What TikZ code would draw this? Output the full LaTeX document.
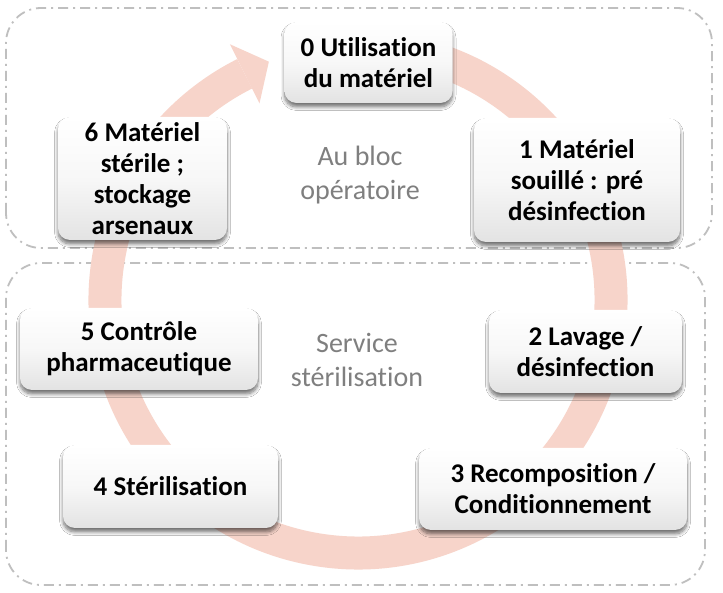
\documentclass[tikz,border=0pt]{standalone}
\usepackage{fontspec}
\setmainfont{Carlito}[Ligatures=NoCommon]
\usetikzlibrary{calc,shadows.blur}
\definecolor{bandc}{RGB}{247,212,202}
\definecolor{framec}{RGB}{191,191,191}
\definecolor{labelc}{RGB}{127,127,127}
\begin{document}
\begin{tikzpicture}[x=1pt,y=1pt,
  zone/.style={draw=framec, line width=1.8pt, rounded corners=35pt,
    dash pattern=on 10pt off 5pt on 2pt off 5pt},
  band/.style={draw=bandc, line width=33pt},
  stepbox/.style={rounded corners=12pt, inner sep=0pt, align=center,
    top color=white, bottom color=black!11, middle color=black!3,
    blur shadow={shadow xshift=0pt, shadow yshift=-4pt, shadow blur steps=8,
      shadow opacity=55, shadow blur radius=3.5pt},
    font=\fontsize{27}{31}\selectfont\bfseries, text=black},
  zonelabel/.style={align=center, text=labelc, font=\fontsize{28}{34}\selectfont}]
\useasboundingbox (0,0) rectangle (723,593);
\fill[white] (0,0) rectangle (723,593);
% zones
\draw[zone] (6,345) rectangle (712,585);
\draw[zone] (6,8) rectangle (705,330);
% cycle arrow
\coordinate (C) at (358,293);
\draw[band] ([shift={(80:253)}]C) arc[start angle=80, end angle=-243.4, radius=253];
\coordinate (hb1) at ($(C)+(116.6:220)$);
\coordinate (hb2) at ($(C)+(116.6:286)$);
\coordinate (ht) at ($(C)+(116.6:253)+(26.6:27)$);
\fill[bandc] (hb1) -- (hb2) -- (ht) -- cycle;
% zone labels
\node[zonelabel] (lbloc) at (360,418) {Au bloc\\opératoire};
\node[zonelabel] (lserv) at (357,233) {Service\\stérilisation};
% steps
\node[stepbox, minimum width=168pt, minimum height=81pt] (n0) at (368.5,530.5) {0 Utilisation\\du matériel};
\node[stepbox, minimum width=206pt, minimum height=124pt] (n1) at (577,413) {1 Matériel\\souillé : pré\\désinfection};
\node[stepbox, minimum width=193pt, minimum height=83pt] (n2) at (585.5,241.5) {2 Lavage /\\désinfection};
\node[stepbox, minimum width=268pt, minimum height=82pt] (n3) at (553,104) {3 Recomposition /\\Conditionnement};
\node[stepbox, minimum width=215pt, minimum height=83pt] (n4) at (170.5,106.5) {4 Stérilisation};
\node[stepbox, minimum width=238pt, minimum height=82pt] (n5) at (139,244) {5 Contrôle\\pharmaceutique};
\node[stepbox, minimum width=169pt, minimum height=123pt] (n6) at (142.5,414.5) {6 Matériel\\stérile ;\\stockage\\arsenaux};
\end{tikzpicture}
\end{document}
